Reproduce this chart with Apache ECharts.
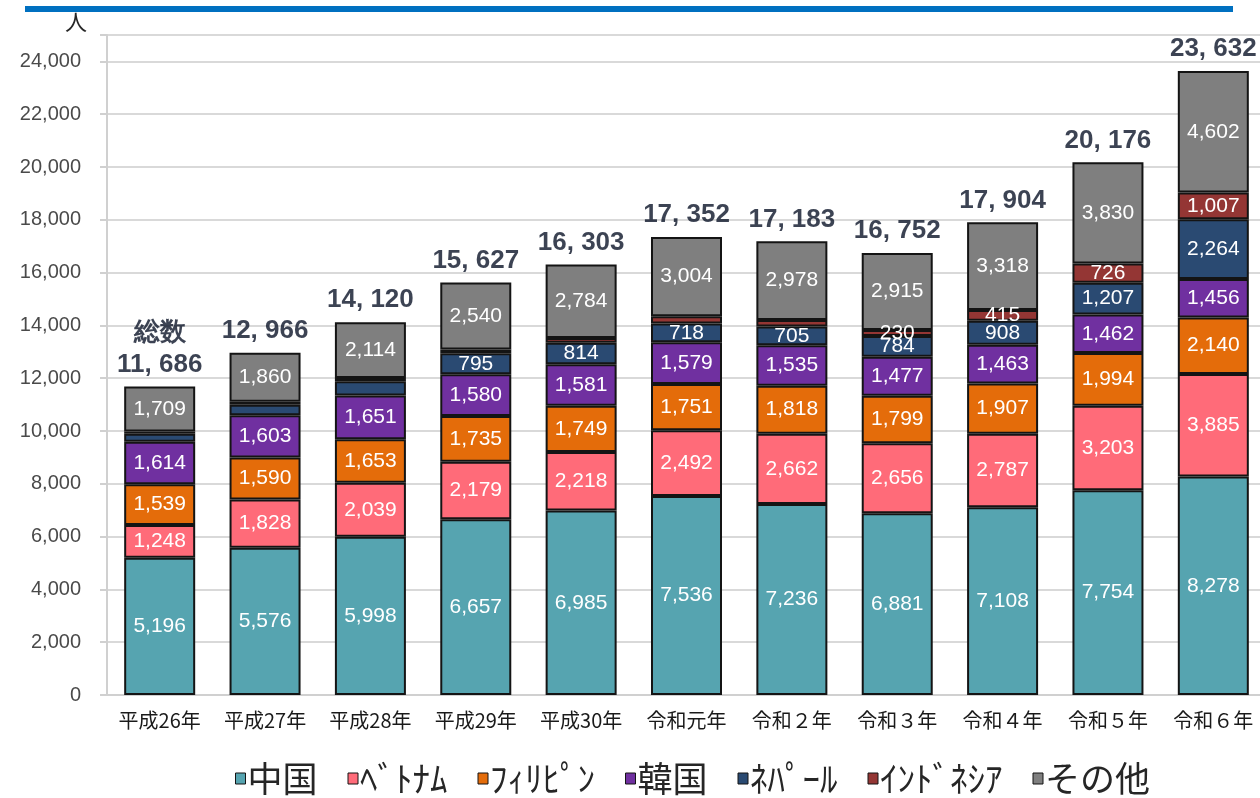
<!DOCTYPE html>
<html>
<head>
<meta charset="utf-8">
<script src="https://cdn.jsdelivr.net/npm/echarts@6/dist/echarts.min.js"></script>
<style>
html, body { margin: 0; padding: 0; background: #fff; overflow: hidden; }
#chart { width: 1266px; height: 798px; }
</style>
</head>
<body>
<div id="chart"></div>
<script>
// 年度
var categories = ['平成26年', '平成27年', '平成28年', '平成29年', '平成30年', '令和元年', '令和２年', '令和３年', '令和４年', '令和５年', '令和６年'];
// 国籍別 人数
var china = [5196, 5576, 5998, 6657, 6985, 7536, 7236, 6881, 7108, 7754, 8278];
var vietnam = [1248, 1828, 2039, 2179, 2218, 2492, 2662, 2656, 2787, 3203, 3885];
var philippines = [1539, 1590, 1653, 1735, 1749, 1751, 1818, 1799, 1907, 1994, 2140];
var korea = [1614, 1603, 1651, 1580, 1581, 1579, 1535, 1477, 1463, 1462, 1456];
var nepal = [300, 400, 540, 795, 814, 718, 705, 784, 908, 1207, 2264];
var indonesia = [80, 109, 125, 141, 172, 272, 249, 230, 415, 726, 1007];
var other = [1709, 1860, 2114, 2540, 2784, 3004, 2978, 2915, 3318, 3830, 4602];
// 総数
var totals = [11686, 12966, 14120, 15627, 16303, 17352, 17183, 16752, 17904, 20176, 23632];
// 数値ラベルを出さない棒
var nepalHide = [0, 1, 2];
var indonesiaHide = [0, 1, 2, 3, 4, 5, 6];

var seriesDefs = [
	{ name: '中国', data: china, color: '#56A4B0' },
	{ name: 'ﾍﾞﾄﾅﾑ', data: vietnam, color: '#FF6B79' },
	{ name: 'ﾌｨﾘﾋﾟﾝ', data: philippines, color: '#E46C0A' },
	{ name: '韓国', data: korea, color: '#7030A0' },
	{ name: 'ﾈﾊﾟｰﾙ', data: nepal, color: '#2A4A72', hide: nepalHide },
	{ name: 'ｲﾝﾄﾞﾈｼｱ', data: indonesia, color: '#943634', hide: indonesiaHide },
	{ name: 'その他', data: other, color: '#7F7F7F' }
];

function fmt(v) {
	return v.toString().replace(/\B(?=(\d{3})+(?!\d))/g, ',');
}

var series = seriesDefs.map(function (s) {
	return {
		name: s.name,
		type: 'bar',
		stack: 'total',
		barWidth: 71,
		data: s.data,
		itemStyle: { color: s.color, borderColor: '#141414', borderWidth: 2 },
		label: {
			show: true,
			position: 'inside',
			color: '#fff',
			fontSize: 21,
			fontFamily: 'Liberation Sans, Arial, sans-serif',
			formatter: function (p) {
				if (s.hide && s.hide.indexOf(p.dataIndex) >= 0) return '';
				return fmt(p.value);
			}
		}
	};
});

// 総数ラベル（棒の上）
series.push({
	name: '総数',
	type: 'scatter',
	data: totals,
	symbolSize: 0,
	silent: true,
	label: {
		show: true,
		position: 'top',
		distance: 6,
		color: '#0b1428',
		fontSize: 26,
		fontWeight: 'bold',
		lineHeight: 32,
		fontFamily: 'Liberation Sans Narrow, Arial Narrow, sans-serif',
		formatter: function (p) {
			var t = fmt(p.value).replace(',', ', ');
			return p.dataIndex === 0 ? '総数\n' + t : t;
		}
	}
});

var chart = echarts.init(document.getElementById('chart'));
chart.setOption({
	animation: false,
	backgroundColor: '#fff',
	grid: { left: 107, top: 35, right: 0, bottom: 103 },
	legend: {
		data: seriesDefs.map(function (s) { return s.name; }),
		top: 756,
		left: 230,
		icon: 'rect',
		itemWidth: 10,
		itemHeight: 11,
		itemGap: 30,
		itemStyle: { borderColor: '#141414', borderWidth: 1 },
		textStyle: { fontSize: 35, color: '#262626', fontFamily: 'Noto Sans CJK JP', padding: [0, 0, 0, -3] }
	},
	xAxis: {
		type: 'category',
		data: categories,
		axisLine: { lineStyle: { color: '#d0d0d0', width: 2 } },
		axisTick: { show: false },
		axisLabel: { interval: 0, color: '#1a1a1a', fontSize: 20, margin: 15, fontFamily: 'Noto Sans CJK JP' }
	},
	yAxis: {
		type: 'value',
		min: 0,
		max: 25000,
		interval: 2000,
		name: '人',
		nameGap: 2,
		nameTextStyle: { fontSize: 22, color: '#262626', align: 'right', padding: [0, 20, 0, 0], fontFamily: 'Noto Sans CJK JP' },
		axisLine: { show: true, lineStyle: { color: '#d0d0d0', width: 2 } },
		axisTick: { show: true, length: 7, lineStyle: { color: '#d0d0d0', width: 2 } },
		splitLine: { lineStyle: { color: '#d9d9d9', width: 2 } },
		axisLabel: {
			color: '#4a4a4a',
			fontSize: 20,
			margin: 26,
			fontFamily: 'Liberation Sans, Arial, sans-serif',
			formatter: function (v) { return v > 24000 ? '' : fmt(v); }
		}
	},
	graphic: [
		{ type: 'rect', left: 25, top: 6, shape: { width: 1208, height: 6 }, style: { fill: '#0070C0' } }
	],
	series: series
});
</script>
</body>
</html>
